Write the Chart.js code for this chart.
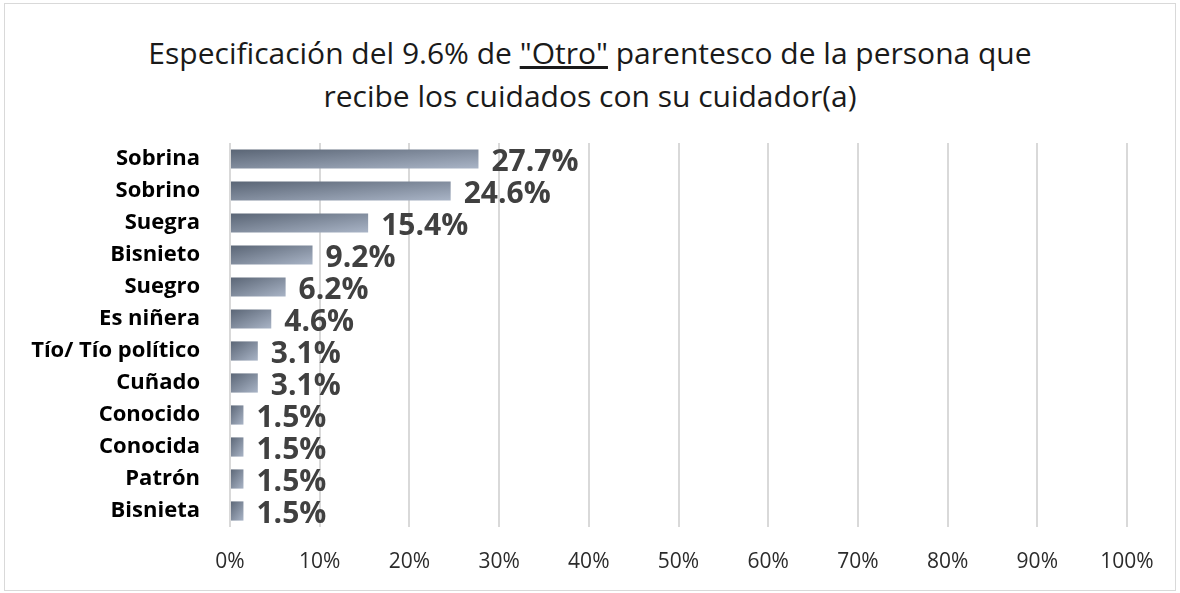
<!DOCTYPE html>
<html>
<head>
<meta charset="utf-8">
<script src="https://cdn.jsdelivr.net/npm/chart.js@4.4.1/dist/chart.umd.min.js"></script>
<style>
  html, body { margin: 0; padding: 0; background: #fff; }
  #wrap { position: relative; width: 1180px; height: 593px; }
  #frame { position: absolute; left: 4px; top: 3px; width: 1170px; height: 586px; border: 1px solid #d9d9d9; pointer-events: none; }
  #title { position: absolute; left: 0; top: 31px; width: 1180px; text-align: center;
    font-family: "Open Sans", sans-serif; font-size: 30px; line-height: 43px; color: #1a1a1a; }
  canvas { position: absolute; left: 0; top: 0; }
</style>
</head>
<body>
<div id="wrap">
  <div id="frame"></div>
  <div id="title">Especificación del 9.6% de <u>"Otro"</u> parentesco de la persona que<br>recibe los cuidados con su cuidador(a)</div>
  <canvas id="chart" width="1180" height="593"></canvas>
</div>
<script>
const categories = ['Sobrina', 'Sobrino', 'Suegra', 'Bisnieto', 'Suegro', 'Es niñera',
  'Tío/ Tío político', 'Cuñado', 'Conocido', 'Conocida', 'Patrón', 'Bisnieta'];
const values = [27.7, 24.6, 15.4, 9.2, 6.2, 4.6, 3.1, 3.1, 1.5, 1.5, 1.5, 1.5];
const tickValues = [0, 10, 20, 30, 40, 50, 60, 70, 80, 90, 100];

// diagonal gradient scaled to each bar's box (top-left dark, bottom-right light)
function barFill(ctx) {
  const chart = ctx.chart;
  const xs = chart.scales.x, ys = chart.scales.y;
  if (!xs || !ys || !chart.chartArea) return '#7f8a9c';
  const x0 = xs.getPixelForValue(0);
  const x1 = xs.getPixelForValue(ctx.raw);
  const yc = ys.getPixelForValue(ctx.dataIndex);
  const h = 19, top = yc - h / 2;
  const w = Math.max(1, x1 - x0);
  const nx = 1 / w, ny = 1 / h, n2 = nx * nx + ny * ny;
  const dx = 2 * nx / n2, dy = 2 * ny / n2;
  const g = chart.ctx.createLinearGradient(x0, top, x0 + dx, top + dy);
  g.addColorStop(0, '#5a6575');
  g.addColorStop(1, '#a9b4c6');
  return g;
}

const valueLabels = {
  id: 'valueLabels',
  afterDatasetsDraw(chart) {
    const c = chart.ctx;
    const meta = chart.getDatasetMeta(0);
    c.save();
    c.font = 'bold 30px "Open Sans", sans-serif';
    c.fillStyle = '#404040';
    c.textAlign = 'left';
    c.textBaseline = 'middle';
    meta.data.forEach((bar, i) => {
      c.fillText(values[i].toFixed(1) + '%', bar.x + 13, bar.y + 3);
    });
    c.restore();
  }
};

new Chart(document.getElementById('chart'), {
  type: 'bar',
  data: {
    labels: categories,
    datasets: [{
      data: values,
      backgroundColor: barFill,
      borderWidth: 0,
      barPercentage: 0.6,
      categoryPercentage: 1
    }]
  },
  options: {
    indexAxis: 'y',
    responsive: false,
    animation: false,
    layout: { padding: { left: 0, right: 53, top: 143, bottom: 0 } },
    plugins: { legend: { display: false }, tooltip: { enabled: false }, title: { display: false } },
    scales: {
      x: {
        min: 0, max: 100,
        afterBuildTicks(scale) { scale.ticks = tickValues.map(v => ({ value: v })); },
        afterFit(scale) { scale.height = 66; },
        grid: { color: '#d9d9d9', lineWidth: 2, drawTicks: false },
        border: { display: false },
        ticks: {
          padding: 22,
          color: '#2b2b2b',
          font: { family: '"Open Sans", sans-serif', size: 21 },
          callback: v => v + '%'
        }
      },
      y: {
        afterFit(scale) { scale.width = 230; },
        grid: { display: false },
        border: { display: false },
        ticks: {
          padding: 22,
          color: '#000',
          font: { family: '"Open Sans", sans-serif', size: 22, weight: 'bold' }
        }
      }
    }
  },
  plugins: [valueLabels]
});
</script>
</body>
</html>
